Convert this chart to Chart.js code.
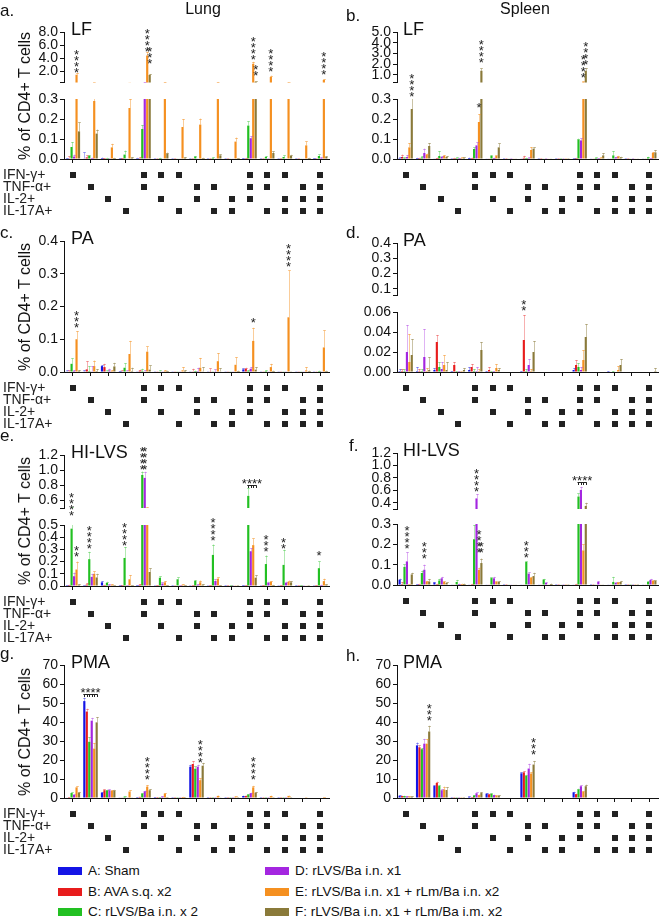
<!DOCTYPE html>
<html>
<head>
<meta charset="utf-8">
<script src="https://cdn.jsdelivr.net/npm/chart.js@4.4.1/dist/chart.umd.min.js"></script>
<style>
  body { margin: 0; background: #fff; font-family: "Liberation Sans", Arial, sans-serif; }
  #fig { position: relative; width: 660px; height: 919px; overflow: hidden; background: #fff; }
  #fig canvas { position: absolute; }
  .txt { position: absolute; white-space: nowrap; color: #111; line-height: 1; }
</style>
</head>
<body>
<div id="fig"></div>
<script>
// ---- data ----
const seriesNames = ['A: Sham', 'B: AVA s.q. x2', 'C: rLVS/Ba i.n. x 2', 'D: rLVS/Ba i.n. x1',
  'E: rLVS/Ba i.n. x1 + rLm/Ba i.n. x2', 'F: rLVS/Ba i.n. x1 + rLm/Ba i.m. x2'];
const seriesColors = ['#1414e6', '#e81c1c', '#22c022', '#a426e0', '#f59020', '#8a7a3a'];
const errColors = ['rgba(20,20,230,0.35)', 'rgba(232,28,28,0.35)', 'rgba(34,192,34,0.35)',
  'rgba(164,38,224,0.35)', 'rgba(245,144,32,0.45)', 'rgba(138,122,58,0.45)'];

const categories = ['IFN-γ', 'TNF-α', 'IL-2', 'IL-17A', 'IFN-γ/TNF-α', 'IFN-γ/IL-2', 'IFN-γ/IL-17A',
  'TNF-α/IL-2', 'TNF-α/IL-17A', 'IL-2/IL-17A', 'IFN-γ/TNF-α/IL-2', 'IFN-γ/TNF-α/IL-17A',
  'IFN-γ/IL-2/IL-17A', 'TNF-α/IL-2/IL-17A', 'IFN-γ/TNF-α/IL-2/IL-17A'];
const rowLabels = ['IFN-γ+', 'TNF-α+', 'IL-2+', 'IL-17A+'];
const matrix = [
  [1,0,0,0,1,1,1,0,0,0,1,1,1,0,1],
  [0,1,0,0,1,0,0,1,1,0,1,1,0,1,1],
  [0,0,1,0,0,1,0,1,0,1,1,0,1,1,1],
  [0,0,0,1,0,0,1,0,1,1,0,1,1,1,1]
];

// series rows: A, B, C, D, E, F
const lungLF = [
  [0.002,0.003,0.004,0.002,0.003,0.001,0.001,0.001,0.001,0.001,0.002,0.001,0.001,0.001,0.002],
  [0.003,0.008,0.002,0.002,0.004,0.001,0.001,0.001,0.001,0.001,0.003,0.001,0.001,0.001,0.001],
  [0.06,0.015,0.003,0.022,0.15,0.004,0.002,0.012,0.005,0.003,0.167,0.01,0.01,0.003,0.015],
  [0.012,0.004,0.001,0.002,0.32,0.003,0.002,0.003,0.002,0.002,0.104,0.004,0.003,0.002,0.005],
  [1.5,0.29,0.058,0.255,4.4,0.33,0.16,0.172,0.33,0.087,3.15,1.15,0.33,0.068,0.7],
  [0.138,0.127,0.004,0.006,1.45,0.027,0.006,0.004,0.018,0.003,0.42,0.03,0.016,0.004,0.01]
];
const lungLFErr = [
  [0.003,0.03,0.003,0.003,0.003,0,0,0,0,0,0.002,0,0,0,0.002],
  [0.01,0.01,0.003,0.003,0.005,0,0,0,0,0,0.003,0,0,0,0],
  [0.025,0.005,0.003,0.02,0.02,0.002,0,0.003,0.003,0,0.022,0.005,0.008,0,0.008],
  [0.01,0.003,0,0,0.05,0,0,0,0,0,0.01,0,0,0,0.003],
  [0.2,0.015,0.018,0.045,0.6,0.05,0.04,0.03,0.05,0.02,0.3,0.2,0.05,0.02,0.1],
  [0.045,0.02,0.002,0.003,0.15,0.005,0.003,0.002,0.005,0.002,0.05,0.008,0.005,0.002,0.004]
];
const spleenLF = [
  [0.005,0.004,0.002,0.004,0.005,0.002,0.001,0.002,0.001,0.001,0.003,0.002,0.002,0.001,0.002],
  [0.01,0.003,0.004,0.003,0.004,0.002,0.001,0.006,0.001,0.001,0.003,0.002,0.003,0.001,0.002],
  [0.005,0.008,0.015,0.005,0.05,0.015,0.002,0.004,0.002,0.001,0.097,0.005,0.018,0.002,0.008],
  [0.01,0.03,0.01,0.004,0.068,0.005,0.001,0.005,0.001,0.001,0.093,0.003,0.008,0.001,0.004],
  [0.058,0.022,0.015,0.005,0.185,0.015,0.002,0.045,0.003,0.001,0.35,0.005,0.012,0.003,0.03],
  [0.25,0.065,0.01,0.005,1.39,0.058,0.002,0.052,0.002,0.001,1.39,0.018,0.008,0.002,0.033]
];
const spleenLFErr = [
  [0.003,0.002,0,0,0.002,0,0,0,0,0,0.002,0,0,0,0],
  [0.012,0.003,0.003,0.003,0.003,0,0,0.01,0,0,0.003,0,0,0,0],
  [0.003,0.005,0.025,0.003,0.008,0.005,0,0.002,0,0,0.005,0.003,0.022,0,0.003],
  [0.01,0.022,0.005,0.002,0.015,0.002,0,0.003,0,0,0.01,0.002,0.003,0,0.002],
  [0.022,0.005,0.005,0.003,0.04,0.003,0,0.015,0,0,0.05,0.003,0.004,0,0.005],
  [0.06,0.015,0.005,0.003,0.22,0.02,0,0.006,0,0,0.25,0.012,0.003,0,0.012]
];
const lungPA = [
  [0.002,0.002,0.018,0.002,0.001,0.001,0.001,0.001,0.001,0.001,0.008,0.001,0.001,0.001,0.001],
  [0.002,0.008,0.015,0.002,0.004,0.001,0.001,0.002,0.001,0.001,0.01,0.001,0.001,0.001,0.001],
  [0.025,0.003,0.002,0.013,0.003,0.002,0.001,0.001,0.001,0.001,0.003,0.003,0.001,0.001,0.002],
  [0.003,0.002,0.005,0.002,0.002,0.001,0.001,0.003,0.001,0.001,0.01,0.001,0.001,0.001,0.001],
  [0.1,0.018,0.003,0.055,0.062,0.003,0.005,0.013,0.033,0.022,0.095,0.015,0.167,0.005,0.075],
  [0.003,0.003,0.017,0.003,0.007,0.002,0.003,0.002,0.002,0.002,0.007,0.002,0.001,0.002,0.002]
];
const lungPAErr = [
  [0.003,0.003,0.003,0.002,0,0,0,0,0,0,0.003,0,0,0,0],
  [0.003,0.025,0.01,0.003,0.003,0,0,0.008,0.01,0,0.003,0,0,0,0],
  [0.017,0.015,0.003,0.014,0.007,0.003,0,0.003,0,0,0.003,0.002,0,0,0.002],
  [0.003,0.016,0.005,0.003,0.003,0,0,0.01,0.007,0,0.005,0,0,0,0],
  [0.025,0.017,0.003,0.04,0.016,0.003,0.01,0.03,0.025,0.023,0.04,0.01,0.143,0.01,0.052],
  [0.003,0.006,0.011,0.01,0.013,0.002,0.003,0.013,0.01,0.002,0.008,0.002,0,0.002,0.002]
];
const spleenPA = [
  [0.001,0.001,0.002,0.001,0.002,0.001,0,0.001,0,0,0.002,0,0.001,0,0],
  [0.001,0.001,0.03,0.007,0.005,0.002,0,0.032,0,0,0.007,0,0,0,0],
  [0.001,0.001,0.005,0.001,0.001,0.001,0,0.001,0,0,0.005,0,0.001,0,0],
  [0.02,0.015,0.003,0.001,0.001,0.001,0,0.007,0,0,0.002,0,0,0,0],
  [0.01,0.001,0.007,0.001,0.001,0.004,0,0.001,0,0,0.012,0,0.002,0,0],
  [0.017,0.002,0.002,0.002,0.022,0.002,0,0.02,0,0,0.035,0,0.007,0,0.001]
];
const spleenPAErr = [
  [0.002,0.004,0.002,0,0.003,0,0,0,0,0,0.002,0,0,0,0],
  [0.002,0.002,0.007,0.003,0.003,0.003,0,0.025,0,0,0.005,0,0,0,0],
  [0.002,0.002,0.005,0,0.002,0,0,0.002,0,0,0.004,0,0,0,0],
  [0.027,0.028,0.007,0,0.004,0,0,0.006,0,0,0.003,0,0,0,0],
  [0.028,0.003,0.01,0,0.002,0.004,0,0.002,0,0,0.01,0,0.004,0,0],
  [0.016,0.013,0.008,0.002,0.008,0.002,0,0.011,0,0,0.013,0,0.006,0,0.003]
];
const lungHI = [
  [0.003,0.004,0.03,0.005,0.003,0.002,0.001,0.002,0.002,0.001,0.003,0.002,0.002,0.001,0.002],
  [0.005,0.012,0.005,0.003,0.01,0.003,0.002,0.003,0.003,0.001,0.005,0.003,0.003,0.001,0.003],
  [0.47,0.22,0.025,0.23,0.937,0.068,0.055,0.041,0.255,0.003,0.66,0.18,0.173,0.005,0.146],
  [0.08,0.075,0.01,0.004,0.898,0.02,0.004,0.01,0.041,0.002,0.285,0.025,0.025,0.002,0.006],
  [0.135,0.1,0.01,0.055,0.5,0.03,0.01,0.03,0.06,0.002,0.335,0.035,0.035,0.003,0.04],
  [0.01,0.07,0.004,0.003,0.115,0.005,0.003,0.01,0.005,0.001,0.068,0.006,0.03,0.001,0.01]
];
const lungHIErr = [
  [0.002,0.003,0.01,0.003,0.002,0,0,0,0,0,0.002,0,0,0,0],
  [0.005,0.01,0.005,0.003,0.005,0.002,0,0.002,0.002,0,0.003,0.002,0.002,0,0.002],
  [0.04,0.06,0.01,0.09,0.045,0.01,0.015,0.008,0.085,0.002,0.1,0.07,0.125,0.003,0.055],
  [0.03,0.025,0.005,0.003,0.08,0.01,0.003,0.005,0.015,0,0.025,0.01,0.01,0,0.005],
  [0.065,0.02,0.005,0.035,0.01,0.01,0.005,0.015,0.01,0,0.055,0.005,0.01,0,0.02],
  [0.005,0.03,0.002,0.002,0.03,0.003,0.002,0.005,0.003,0,0.02,0.003,0.01,0,0.004]
];
const spleenHI = [
  [0.026,0.003,0.012,0.002,0.002,0.002,0.001,0.002,0.002,0.001,0.002,0.001,0.002,0.001,0.002],
  [0.005,0.003,0.003,0.002,0.003,0.002,0.001,0.002,0.002,0.001,0.003,0.001,0.002,0.001,0.002],
  [0.089,0.059,0.022,0.015,0.225,0.034,0.002,0.113,0.027,0.002,0.5,0.003,0.015,0.001,0.015],
  [0.116,0.075,0.033,0.005,0.47,0.033,0.003,0.056,0.01,0.001,0.607,0.015,0.01,0.001,0.025],
  [0.002,0.017,0.015,0.005,0.075,0.015,0.002,0.035,0.003,0.001,0.17,0.003,0.012,0.001,0.02],
  [0.052,0.017,0.01,0.005,0.108,0.015,0.002,0.044,0.005,0.001,0.35,0.003,0.015,0.001,0.02]
];
const spleenHIErr = [
  [0.005,0.002,0.003,0,0,0,0,0,0,0,0,0,0,0,0],
  [0.01,0.003,0.003,0,0.003,0,0,0,0,0,0.003,0,0,0,0],
  [0.012,0.012,0.008,0.01,0.07,0.003,0,0.003,0.003,0,0.05,0,0.025,0,0.003],
  [0.045,0.025,0.007,0.002,0.07,0.007,0,0.006,0.003,0,0.05,0.005,0.003,0,0.005],
  [0.002,0.003,0.003,0.002,0.01,0.003,0,0.005,0,0,0.03,0,0.003,0,0.003],
  [0.008,0.013,0.003,0.002,0.022,0.003,0,0.016,0.002,0,0.05,0,0.005,0,0.003]
];
const lungPMA = [
  [0.3,51,2.8,0.2,0.5,0.5,0.1,16.5,0.1,0.1,1.06,0.1,0.1,0,0],
  [0.5,45.5,4.1,0.2,0.6,0.5,0.1,17.9,0.1,0.1,1.1,0.1,0.1,0,0],
  [2.6,29.6,4.0,0.7,2.3,0.5,0.1,15.4,0.1,0.1,1.8,0.1,0.1,0,0],
  [1.6,40.7,4.1,0.2,3.5,0.7,0.1,16.5,0.1,0.1,2.5,0.1,0.1,0,0],
  [5.6,26,3.8,3.4,6.0,2.3,0.5,9.4,1.1,0.7,5.6,1.0,1.1,0.1,0.3],
  [2.8,39.8,3.8,0.2,4.1,0.5,0.1,17,0.2,0.1,2.8,0.1,0.1,0,0]
];
const lungPMAErr = [
  [0,1.8,0.3,0,0,0,0,1,0,0,0.2,0,0,0,0],
  [0,1.5,0.4,0,0,0,0,1.5,0,0,0.2,0,0,0,0],
  [0.3,2.5,0.4,0.2,0.3,0,0,1.2,0,0,0.3,0,0,0,0],
  [0.3,1.5,0.4,0,0.4,0.2,0,1,0,0,0.3,0,0,0,0],
  [0.5,3,0.4,0.6,0.8,0.3,0.1,1,0.2,0.1,0.8,0.2,0.2,0,0.1],
  [0.4,2.8,0.5,0,0.5,0,0,1.5,0,0,0.4,0,0,0,0]
];
const spleenPMA = [
  [1.2,27.7,6.3,0.1,0.6,2.3,0,13,0,0,3,0,0,0,0],
  [1,26.7,7.9,0.1,0.2,1.9,0,13.5,0,0,2,0,0,0,0],
  [1,25.7,6.3,0.1,1.3,2.2,0,11.7,0,0,4.5,0,0,0,0],
  [0.8,28.6,4.1,0.1,2.5,1.5,0,15.5,0,0,6.2,0,0,0,0],
  [0.8,28.6,4.5,0.1,1.5,1.2,0,12.9,0,0,3.3,0,0,0,0],
  [0.7,35,4.2,0.1,2.6,1.2,0,17.6,0,0,6.2,0,0,0,0]
];
const spleenPMAErr = [
  [0.3,1.5,0.5,0,0.2,0.3,0,0.6,0,0,0.3,0,0,0,0],
  [0.2,1,0.7,0,0.1,0.3,0,0.6,0,0,0.3,0,0,0,0],
  [0.2,0.6,0.4,0,0.3,0.3,0,0.5,0,0,0.4,0,0,0,0],
  [0.2,2.5,0.5,0,0.4,0.3,0,2.5,0,0,0.4,0,0,0,0],
  [0.2,2.5,1.5,0,0.3,0.3,0,0.6,0,0,0.4,0,0,0,0],
  [0.2,3,1.5,0,0.5,0.3,0,1.9,0,0,0.8,0,0,0,0]
];

// tick labels (upper / lower segments of broken axes)
const lungLFTicksHi = [2, 4, 6, 8];
const lungLFTicksLo = [0, 0.1, 0.2, 0.3];
const spleenLFTicksHi = [1, 2, 3, 4, 5];
const spleenLFTicksLo = [0, 0.1, 0.2, 0.3];
const lungPATicks = [0, 0.1, 0.2, 0.3, 0.4];
const spleenPATicksHi = [0.1, 0.2, 0.3, 0.4];
const spleenPATicksLo = [0, 0.02, 0.04, 0.06];
const lungHITicksHi = [0.6, 0.8, 1.0, 1.2];
const lungHITicksLo = [0, 0.1, 0.2, 0.3, 0.4, 0.5];
const spleenHITicksHi = [0.4, 0.6, 0.8, 1.0, 1.2];
const spleenHITicksLo = [0, 0.1, 0.2, 0.3];
const pmaTicks = [0, 10, 20, 30, 40, 50, 60, 70];

// significance marks: [category, series (or [from, to] for a bracket), value, text, segment]
const lungLFNotes = [[0,4,1.8,'****',0], [4,4,5.0,'****',0], [4,5,3.05,'***',0], [10,4,3.7,'****',0],
  [10,5,1.25,'**',0], [11,4,1.9,'****',0], [14,4,1.45,'****',0]];
const spleenLFNotes = [[0,5,0.31,'****',1], [4,4,0.255,'*',1], [4,5,2.1,'****',0], [10,4,0.72,'****',0],
  [10,5,1.97,'****',0]];
const lungPANotes = [[0,4,0.135,'***',0], [10,4,0.15,'*',0], [12,4,0.32,'****',0]];
const spleenPANotes = [[7,1,0.061,'**',1]];
const lungHINotes = [[0,2,0.57,'****',1], [0,4,0.24,'**',1], [1,2,0.305,'****',1], [3,2,0.33,'****',1],
  [4,2,1.0,'****',0], [4,3,1.0,'****',0], [8,2,0.37,'****',1], [10,[2,5],0.81,'****',0],
  [11,2,0.28,'***',1], [12,2,0.3,'**',1], [14,2,0.25,'*',1]];
const spleenHINotes = [[0,3,0.175,'****',1], [1,3,0.13,'***',1], [4,3,0.57,'****',0], [4,4,0.155,'****',1],
  [4,5,0.155,'**',1], [7,2,0.135,'***',1], [10,[2,5],0.74,'****',0]];
const lungPMANotes = [[1,[0,5],54.5,'****',0], [4,4,9.4,'****',0], [7,4,18.6,'****',0], [10,4,9.4,'****',0]];
const spleenPMANotes = [[1,5,40.5,'***',0], [7,5,22.5,'***',0]];

// ---- layout ----
const panels = [
  { letter: 'a.', lx: 0, ly: 10, name: 'LF', col: 0, top: 0, h: 225, data: lungLF, err: lungLFErr, notes: lungLFNotes,
    segs: [{ min: 0.3, max: 8, ticks: lungLFTicksHi, top: 32, bottom: 88.5, dp: 1 },
           { min: 0, max: 0.3, ticks: lungLFTicksLo, top: 99, bottom: 159, dp: 1 }] },
  { letter: 'b.', lx: 346, ly: 15, name: 'LF', col: 1, top: 0, h: 225, data: spleenLF, err: spleenLFErr, notes: spleenLFNotes,
    segs: [{ min: 0.3, max: 5, ticks: spleenLFTicksHi, top: 32, bottom: 88.5, dp: 1 },
           { min: 0, max: 0.3, ticks: spleenLFTicksLo, top: 99, bottom: 159, dp: 1 }] },
  { letter: 'c.', lx: 0, ly: 232, name: 'PA', col: 0, top: 225, h: 210, data: lungPA, err: lungPAErr, notes: lungPANotes,
    segs: [{ min: 0, max: 0.4, ticks: lungPATicks, top: 241, bottom: 372, dp: 1 }] },
  { letter: 'd.', lx: 346, ly: 232, name: 'PA', col: 1, top: 225, h: 210, data: spleenPA, err: spleenPAErr, notes: spleenPANotes,
    segs: [{ min: 0.06, max: 0.4, ticks: spleenPATicksHi, top: 243, bottom: 301, dp: 1 },
           { min: 0, max: 0.06, ticks: spleenPATicksLo, top: 312, bottom: 372, dp: 2 }] },
  { letter: 'e.', lx: 0, ly: 435, name: 'HI-LVS', col: 0, top: 435, h: 215, data: lungHI, err: lungHIErr, notes: lungHINotes,
    segs: [{ min: 0.5, max: 1.2, ticks: lungHITicksHi, top: 455, bottom: 514, dp: 1 },
           { min: 0, max: 0.5, ticks: lungHITicksLo, top: 525, bottom: 586, dp: 1 }] },
  { letter: 'f.', lx: 349, ly: 445, name: 'HI-LVS', col: 1, top: 435, h: 215, data: spleenHI, err: spleenHIErr, notes: spleenHINotes,
    segs: [{ min: 0.3, max: 1.2, ticks: spleenHITicksHi, top: 453, bottom: 515, dp: 1 },
           { min: 0, max: 0.3, ticks: spleenHITicksLo, top: 524, bottom: 585, dp: 1 }] },
  { letter: 'g.', lx: 0, ly: 653, name: 'PMA', col: 0, top: 650, h: 210, data: lungPMA, err: lungPMAErr, notes: lungPMANotes,
    segs: [{ min: 0, max: 70, ticks: pmaTicks, top: 665, bottom: 798, dp: 0 }] },
  { letter: 'h.', lx: 346, ly: 655, name: 'PMA', col: 1, top: 650, h: 210, data: spleenPMA, err: spleenPMAErr, notes: spleenPMANotes,
    segs: [{ min: 0, max: 70, ticks: pmaTicks, top: 665, bottom: 798, dp: 0 }] }
];

const fig = document.getElementById('fig');
const FONT = '"Liberation Sans", Arial, sans-serif';

function addText(str, x, y, size, center, rotate) {
  const d = document.createElement('div');
  d.className = 'txt';
  d.textContent = str;
  d.style.fontSize = size + 'px';
  d.style.left = x + 'px';
  d.style.top = y + 'px';
  d.style.transform = 'translate(' + (center ? '-50%' : '0') + ', -50%)' + (rotate ? ' rotate(-90deg)' : '');
  fig.appendChild(d);
  return d;
}

// thin upper error whiskers, clipped to each segment
function errorBars(p) {
  return {
    id: 'errorBars',
    afterDatasetsDraw(chart) {
      const { ctx, chartArea: a, scales: { y } } = chart;
      ctx.save();
      ctx.beginPath();
      ctx.rect(a.left, a.top, a.right - a.left, a.bottom - a.top);
      ctx.clip();
      ctx.lineWidth = 1;
      p.data.forEach((vals, k) => {
        const meta = chart.getDatasetMeta(k);
        ctx.strokeStyle = errColors[k];
        vals.forEach((v, j) => {
          const e = p.err[k][j];
          if (!e) return;
          const x = Math.round(meta.data[j].x) + 0.5;
          const y1 = y.getPixelForValue(v), y2 = y.getPixelForValue(v + e);
          ctx.beginPath();
          ctx.moveTo(x, y1);
          ctx.lineTo(x, y2);
          ctx.moveTo(x - 1.5, Math.round(y2) + 0.5);
          ctx.lineTo(x + 1.5, Math.round(y2) + 0.5);
          ctx.stroke();
        });
      });
      ctx.restore();
    }
  };
}

// asterisks (stacked) and brackets
function notesPlugin(p, si) {
  return {
    id: 'notes',
    afterDraw(chart) {
      const { ctx, scales: { y } } = chart;
      ctx.save();
      ctx.fillStyle = '#222';
      ctx.strokeStyle = '#222';
      ctx.lineWidth = 1;
      ctx.textAlign = 'center';
      ctx.textBaseline = 'alphabetic';
      ctx.font = '13px ' + FONT;
      p.notes.forEach(([cat, s, v, txt, seg]) => {
        if (seg !== si) return;
        const py = Math.round(y.getPixelForValue(v)) + 0.5;
        if (Array.isArray(s)) {
          const x0 = chart.getDatasetMeta(s[0]).data[cat].x;
          const x1 = chart.getDatasetMeta(s[1]).data[cat].x;
          ctx.beginPath();
          ctx.moveTo(x0 - 1, py);
          ctx.lineTo(x1 + 1, py);
          for (let k = s[0]; k <= s[1]; k++) {
            const bx = Math.round(chart.getDatasetMeta(k).data[cat].x) + 0.5;
            ctx.moveTo(bx, py);
            ctx.lineTo(bx, py + 2.5);
          }
          ctx.stroke();
          ctx.fillText(txt, (x0 + x1) / 2, py + 2.5);
        } else {
          const x = chart.getDatasetMeta(s).data[cat].x;
          for (let k = 0; k < txt.length; k++) {
            ctx.fillText('*', x, py - 3.5 - 6 * k + 7.4);
          }
        }
      });
      ctx.restore();
    }
  };
}

// cytokine combination grid under the x axis
function matrixPlugin(p) {
  return {
    id: 'matrix',
    afterDraw(chart) {
      const { ctx, chartArea: a, scales: { x } } = chart;
      ctx.save();
      ctx.fillStyle = '#222';
      ctx.font = '14px ' + FONT;
      ctx.textBaseline = 'middle';
      ctx.textAlign = 'left';
      matrix.forEach((row, r) => {
        const cy = Math.round(a.bottom + 16 + 12 * r);
        row.forEach((on, i) => {
          if (on) ctx.fillRect(Math.round(x.getPixelForTick(i)) - 3, cy - 3, 6, 6);
        });
        if (p.col === 0) ctx.fillText(rowLabels[r], 3, cy + 0.5);
      });
      ctx.restore();
    }
  };
}

function makeChart(p, seg, si) {
  const last = si === p.segs.length - 1;
  const areaL = p.col ? 67 : 64;
  const areaR = p.col ? 328 : 329;
  const xH = 6;
  const cv = document.createElement('canvas');
  cv.width = 330;
  cv.height = p.h;
  cv.style.left = (p.col * 330) + 'px';
  cv.style.top = p.top + 'px';
  fig.appendChild(cv);

  const axisGrid = { drawOnChartArea: false, drawTicks: true, tickLength: 4, color: '#111', lineWidth: 1 };
  new Chart(cv, {
    type: 'bar',
    data: {
      labels: categories,
      datasets: p.data.map((vals, k) => ({
        label: seriesNames[k],
        data: vals,
        backgroundColor: seriesColors[k],
        borderWidth: 0,
        categoryPercentage: 0.84,
        barPercentage: 0.88,
        clip: 0
      }))
    },
    options: {
      responsive: false,
      animation: false,
      devicePixelRatio: 1,
      layout: {
        padding: {
          left: 0,
          right: 330 - areaR,
          top: seg.top - p.top,
          bottom: p.h - (seg.bottom - p.top) - (last ? xH : 0)
        }
      },
      plugins: { legend: { display: false }, tooltip: { enabled: false } },
      scales: {
        x: {
          display: last,
          offset: true,
          grid: Object.assign({ offset: false }, axisGrid),
          border: { display: true, color: '#111', width: 1 },
          ticks: { display: false },
          afterFit: s => { s.height = xH; }
        },
        y: {
          min: seg.min,
          max: seg.max,
          grid: axisGrid,
          border: { display: true, color: '#111', width: 1 },
          afterFit: s => { s.width = areaL; },
          afterBuildTicks: s => {
            const vals = seg.min > 0 ? [seg.min].concat(seg.ticks) : seg.ticks;
            s.ticks = vals.map(v => ({ value: v }));
          },
          ticks: {
            autoSkip: false,
            color: '#111',
            padding: 2,
            font: { family: FONT, size: 14 },
            callback: v => (seg.min > 0 && v === seg.min) ? '' : Number(v).toFixed(seg.dp)
          }
        }
      }
    },
    plugins: [errorBars(p), notesPlugin(p, si)].concat(last ? [matrixPlugin(p)] : [])
  });
}

panels.forEach(p => {
  p.segs.forEach((seg, si) => makeChart(p, seg, si));
  addText(p.letter, p.lx, p.ly, 17, false);
  const x0 = p.col * 330 + (p.col ? 73 : 71);
  addText(p.name, x0, p.segs[0].top - 3, 18, false);
  if (p.col === 0) {
    const yc = (p.segs[0].top + p.segs[p.segs.length - 1].bottom) / 2;
    addText('% of CD4+ T cells', 25, yc, 16, true, true);
  }
});

addText('Lung', 203, 9, 16, true);
addText('Spleen', 525, 9, 16, true);

// legend
seriesNames.forEach((name, k) => {
  const x = k < 3 ? 58 : 265;
  const y = [871, 892, 912][k % 3];
  const sw = document.createElement('div');
  sw.style.cssText = 'position:absolute;left:' + x + 'px;top:' + (y - 4) + 'px;width:24px;height:8px;background:' + seriesColors[k];
  fig.appendChild(sw);
  addText(name, x + 30, y, 13.5, false);
});
</script>
</body>
</html>
